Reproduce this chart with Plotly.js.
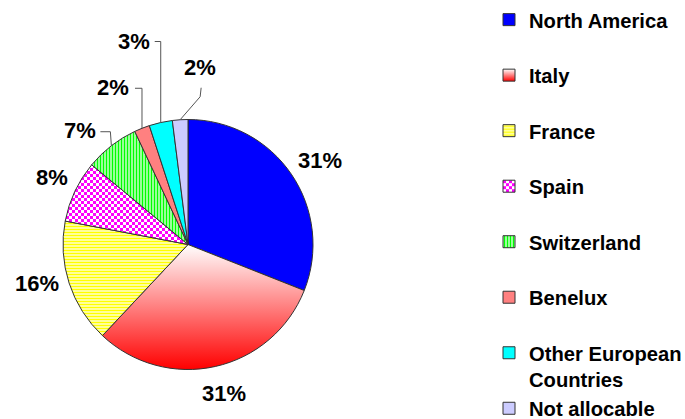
<!DOCTYPE html>
<html><head><meta charset="utf-8">
<script src="https://cdn.plot.ly/plotly-3.0.1.min.js"></script>
<style>
html,body{margin:0;padding:0;background:#fff;overflow:hidden}
#chart{width:685px;height:419px}
.legend .scrollbar{display:none !important}
</style></head><body><div id="chart"></div>
<script>
// ---- data ----
const categories = ['North America','Italy','France','Spain','Switzerland','Benelux','Other European Countries','Not allocable'];
const shares = [31, 31, 16, 8, 7, 2, 3, 2];
const baseColors = ['#0000ff','#ff0000','#ffff00','#ff00ff','#00ff00','#ff8080','#00ffff','#ccccff'];
const patternShapes = ['', '', '-', '', '|', '', '', ''];

// ---- layout constants (pixels) ----
const W = 685, H = 419;
const PIE = {cx: 188, cy: 244.5, r: 125};
// label offset from the slice's outer edge point (mid-angle)
const labelOffsets = [[29,-14],[9,27],[-32,0],[-23,-14],[-31,-15],[-29,-41],[-27,-81],[20,-52]];
// leader lines for the small slices: [elbow, end] relative to label centre (null = none)
const leaders = [null,null,null,null,[[30,1],[20,1]],[[29,1],[22,1]],[[27,0],[21,0]],[[0,29],[1,20]]];

const px = x => x / W, py = y => 1 - y / H;

const total = shares.reduce((a,b)=>a+b,0);
let cum = 0;
const annotations = [], shapes = [];
shares.forEach((v, i) => {
  const mid = (cum + v/2) / total * 2*Math.PI; cum += v;
  const ex = PIE.cx + PIE.r*Math.sin(mid), ey = PIE.cy - PIE.r*Math.cos(mid);
  const lx = ex + labelOffsets[i][0], ly = ey + labelOffsets[i][1];
  annotations.push({xref:'paper', yref:'paper', x:px(lx), y:py(ly), text: v + '%', showarrow:false,
    xanchor:'center', yanchor:'middle',
    font:{family:'Liberation Sans, Arial, sans-serif', size:22, color:'#000', weight:'bold'}});
  if (leaders[i]) {
    const [el, en] = leaders[i];
    shapes.push({type:'path', xref:'paper', yref:'paper',
      path:`M${px(ex)},${py(ey)} L${px(lx+el[0])},${py(ly+el[1])} L${px(lx+en[0])},${py(ly+en[1])}`,
      line:{color:'#555', width:1}});
  }
});

const legendLabels = categories.map(c => c.length > 20 ? c.replace(/ (\S+)$/, '<br>$1') : c + '<br>&nbsp;');

const data = [{
  type:'pie', labels: legendLabels, values: shares, sort:false, direction:'clockwise', rotation:0,
  textinfo:'none', textposition:'none', hoverinfo:'skip',
  domain:{x:[px(PIE.cx-PIE.r), px(PIE.cx+PIE.r)], y:[py(PIE.cy+PIE.r), py(PIE.cy-PIE.r)]},
  marker:{colors: baseColors, line:{color:'#333', width:1},
    pattern:{shape: patternShapes, fgcolor: baseColors, bgcolor:'#ffffff', size:3, solidity:0.6, fillmode:'replace'}}
}];

const layout = {
  width: W, height: H, paper_bgcolor:'#fff', plot_bgcolor:'#fff',
  margin:{l:0,r:0,t:0,b:0, autoexpand:false},
  showlegend:true,
  legend:{x:px(489), xanchor:'left', y:1, yanchor:'top', valign:'top', bgcolor:'rgba(0,0,0,0)',
    font:{family:'Liberation Sans, Arial, sans-serif', size:20.2, color:'#000', weight:'bold'}},
  annotations, shapes
};

Plotly.newPlot('chart', data, layout, {staticPlot:true}).then(gd => {
  const NS = 'http://www.w3.org/2000/svg';
  const defs = gd.querySelector('svg.main-svg defs');
  const grad = document.createElementNS(NS,'linearGradient');
  grad.setAttribute('id','italyGrad');
  grad.setAttribute('x1','0'); grad.setAttribute('y1','0'); grad.setAttribute('x2','0'); grad.setAttribute('y2','1');
  [['0','#ffffff'],['1','#ff0000']].forEach(([o,c]) => {
    const s = document.createElementNS(NS,'stop'); s.setAttribute('offset',o); s.setAttribute('stop-color',c); grad.appendChild(s);
  });
  const pat = document.createElementNS(NS,'pattern');
  pat.setAttribute('id','spainChecker'); pat.setAttribute('patternUnits','userSpaceOnUse');
  pat.setAttribute('width','6'); pat.setAttribute('height','6');
  [[0,0,6,6,'#ffffff'],[0,0,3,3,'#ff00ff'],[3,3,3,3,'#ff00ff']].forEach(([x,y,w,h,c]) => {
    const r = document.createElementNS(NS,'rect');
    r.setAttribute('x',x); r.setAttribute('y',y); r.setAttribute('width',w); r.setAttribute('height',h); r.setAttribute('fill',c);
    pat.appendChild(r);
  });
  defs.appendChild(grad); defs.appendChild(pat);
  const slices = gd.querySelectorAll('.pielayer g.slice path.surface');
  if (slices[1]) slices[1].style.fill = 'url(#italyGrad)';
  if (slices[3]) slices[3].style.fill = 'url(#spainChecker)';
  const legPts = gd.querySelectorAll('.legend .traces path.legendpie');
  if (legPts[1]) legPts[1].style.fill = 'url(#italyGrad)';
  if (legPts[3]) legPts[3].style.fill = 'url(#spainChecker)';
});
</script></body></html>
